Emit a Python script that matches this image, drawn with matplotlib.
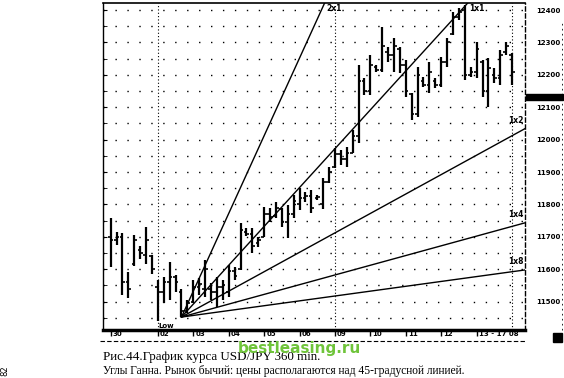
import numpy as np
import matplotlib
matplotlib.use('Agg')
import matplotlib.pyplot as plt
from matplotlib.patches import Rectangle
from matplotlib.lines import Line2D
import matplotlib.transforms as mtransforms

#Data
#--------------------------------
bar_idx = list(range(-8, 61))
highs = [11758, 11715, 11712, 11590, 11705, 11670, 11730, 11645,
         11565, 11576, 11622, 11582, 11540, 11505, 11567, 11573, 11628, 11557,
         11576, 11567, 11613, 11607, 11743, 11727, 11727, 11700, 11792, 11789,
         11808, 11789, 11798, 11829, 11851, 11838, 11845, 11829, 11880, 11915,
         11974, 11968, 11977, 12030, 12230, 12190, 12261, 12230, 12348, 12286,
         12314, 12286, 12246, 12144, 12224, 12193, 12240, 12190, 12255, 12314,
         12394, 12406, 12415, 12224, 12301, 12246, 12252, 12221, 12277, 12301,
         12267]
lows = [11607, 11675, 11520, 11510, 11610, 11630, 11615, 11585,
        11440, 11496, 11505, 11530, 11452, 11465, 11496, 11520, 11514, 11505,
        11483, 11505, 11514, 11567, 11598, 11702, 11650, 11669, 11700, 11746,
        11758, 11730, 11696, 11758, 11783, 11808, 11774, 11814, 11785, 11865,
        11912, 11922, 11915, 11959, 11990, 12138, 12138, 12209, 12209, 12240,
        12209, 12206, 12131, 12061, 12070, 12162, 12144, 12159, 12162, 12224,
        12323, 12369, 12184, 12193, 12190, 12131, 12101, 12175, 12169, 12261,
        12169]
opens = [11700, 11690, 11700, 11560, 11615, 11660, 11645, 11640,
         11545, 11530, 11560, 11575, 11530, 11470, 11500, 11545, 11540, 11540,
         11530, 11545, 11530, 11595, 11600, 11715, 11710, 11680, 11700, 11770,
         11765, 11785, 11745, 11770, 11800, 11820, 11825, 11820, 11800, 11870,
         11915, 11955, 11940, 11960, 12010, 12180, 12150, 12225, 12215, 12270,
         12260, 12280, 12230, 12140, 12080, 12180, 12170, 12180, 12170, 12240,
         12325, 12380, 12400, 12200, 12210, 12240, 12150, 12200, 12190, 12270,
         12260]
closes = [11690, 11700, 11560, 11540, 11690, 11650, 11690, 11600,
          11530, 11560, 11575, 11560, 11470, 11495, 11545, 11555, 11600, 11530,
          11545, 11550, 11595, 11580, 11720, 11710, 11670, 11690, 11770, 11760,
          11790, 11745, 11770, 11810, 11820, 11825, 11790, 11822, 11870, 11900,
          11955, 11940, 11960, 12010, 12180, 12150, 12230, 12215, 12290, 12260,
          12290, 12230, 12150, 12080, 12200, 12170, 12210, 12170, 12240, 12300,
          12380, 12395, 12200, 12210, 12280, 12150, 12220, 12190, 12260, 12290,
          12210]

day_ticks = [-8, 0, 6, 12, 18, 24, 30, 36, 42, 48, 54]
day_labels = ['30', '02', '03', '04', '05', '06', '09', '10', '11', '12', '13 - 17 08']
week_lines = [0, 30, 60]
price_ticks = list(range(11500, 12401, 100))
grid_levels = list(range(11450, 12401, 50))

gann_x0 = 4; gann_p0 = 11452
gann_names = ['2x1', '1x1', '1x2', '1x4', '1x8']
gann_slopes = [40, 20, 10, 5, 2.5]
#--------------------------------

#Figure settings
W = 564; H = 378
xmin = -9.3; xmax = 62.2
ymin = 11412; ymax = 12422
size_ticks = 5

fig = plt.figure(figsize=(W/100, H/100), dpi=100)
ax = fig.add_axes([103/W, 1-330/H, (525-103)/W, (330-3)/H])
ax.set_xlim(xmin, xmax); ax.set_ylim(ymin, ymax)

#grid
for p in grid_levels:
    ax.axhline(p, color='k', lw=1.0, ls=(0, (1, 7.6)), zorder=1)
for w in week_lines:
    ax.axvline(w, color='k', lw=0.8, ls=(0, (1, 2)), zorder=1)

#bars
x = np.array(bar_idx)
ax.vlines(x, lows, highs, color='k', lw=1.6, zorder=3)
ax.hlines(opens, x-0.45, x, color='k', lw=1.2, zorder=3)
ax.hlines(closes, x, x+0.45, color='k', lw=1.2, zorder=3)

#Gann fan
for name, s in zip(gann_names, gann_slopes):
    gx = np.array([gann_x0, xmax])
    ax.plot(gx, gann_p0 + s*(gx-gann_x0), color='k', lw=1.0, zorder=4)
    if s >= 20:
        xt = gann_x0 + (ymax-gann_p0)/s
        ax.text(xt+0.3, ymax-4, name, fontsize=5.5, fontweight='bold', va='top', ha='left')
    else:
        ax.text(xmax-0.3, gann_p0 + s*(xmax-gann_x0) + 12, name, fontsize=5.5,
                fontweight='bold', va='bottom', ha='right')

ax.text(0, ymin+3, 'Low', fontsize=5, fontweight='bold', va='bottom', ha='left')

#spines
ax.spines['top'].set_linewidth(1.2)
ax.spines['left'].set_linewidth(1.0)
ax.spines['right'].set_linewidth(1.0)
ax.spines['right'].set_linestyle((0, (3, 2)))
ax.spines['bottom'].set_linewidth(2.5)

#Ticks
ax.set_yticks(price_ticks)
ax.set_yticks(grid_levels, minor=True)
ax.tick_params(axis='y', which='both', left=True, right=False, labelleft=False,
               labelright=True, direction='in', length=3, labelsize=size_ticks, pad=8)
ax.set_xticks(day_ticks)
ax.set_xticklabels(day_labels)
ax.tick_params(axis='x', direction='out', length=4, width=1, labelsize=size_ticks, pad=-3)
offset = mtransforms.ScaledTranslation(2/100, 0, fig.dpi_scale_trans)
for lbl in ax.get_xticklabels():
    lbl.set_ha('left')
    lbl.set_fontweight('bold')
    lbl.set_transform(lbl.get_transform() + offset)
for lbl in ax.get_yticklabels():
    lbl.set_fontweight('bold')

#extras around the frame
fig.add_artist(Line2D([100/W, 525/W], [1-341/H, 1-341/H], color='k', lw=0.8, ls=(0, (4, 2))))
fig.add_artist(Rectangle((526/W, 1-100/H), 37/W, 6/H, transform=fig.transFigure, color='k'))
fig.add_artist(Rectangle((553/W, 1-342/H), 9/W, 9/H, transform=fig.transFigure, color='k'))
fig.add_artist(Line2D([562/W, 562/W], [1-330/H, 1-20/H], color='k', lw=0.6, ls=(0, (2, 4))))

#caption
fig.text(238/W, 1-348/H, 'bestleasing.ru', color='#6fc43a', fontsize=11,
         fontweight='bold', va='center', ha='left', zorder=5)
fig.text(103/W, 1-357/H, 'Рис.44.График курса USD/JPY 360 min.', family='Liberation Serif',
         fontsize=9.4, va='center', ha='left')
fig.text(103/W, 1-371/H, 'Углы Ганна. Рынок бычий: цены располагаются над 45-градусной линией.',
         family='Liberation Serif', fontsize=8.3, va='center', ha='left')
fig.text(5/W, 1-371/H, '82', rotation=90, fontsize=6, va='center', ha='center')

#save fig
fig.savefig('out.png', dpi=100)
